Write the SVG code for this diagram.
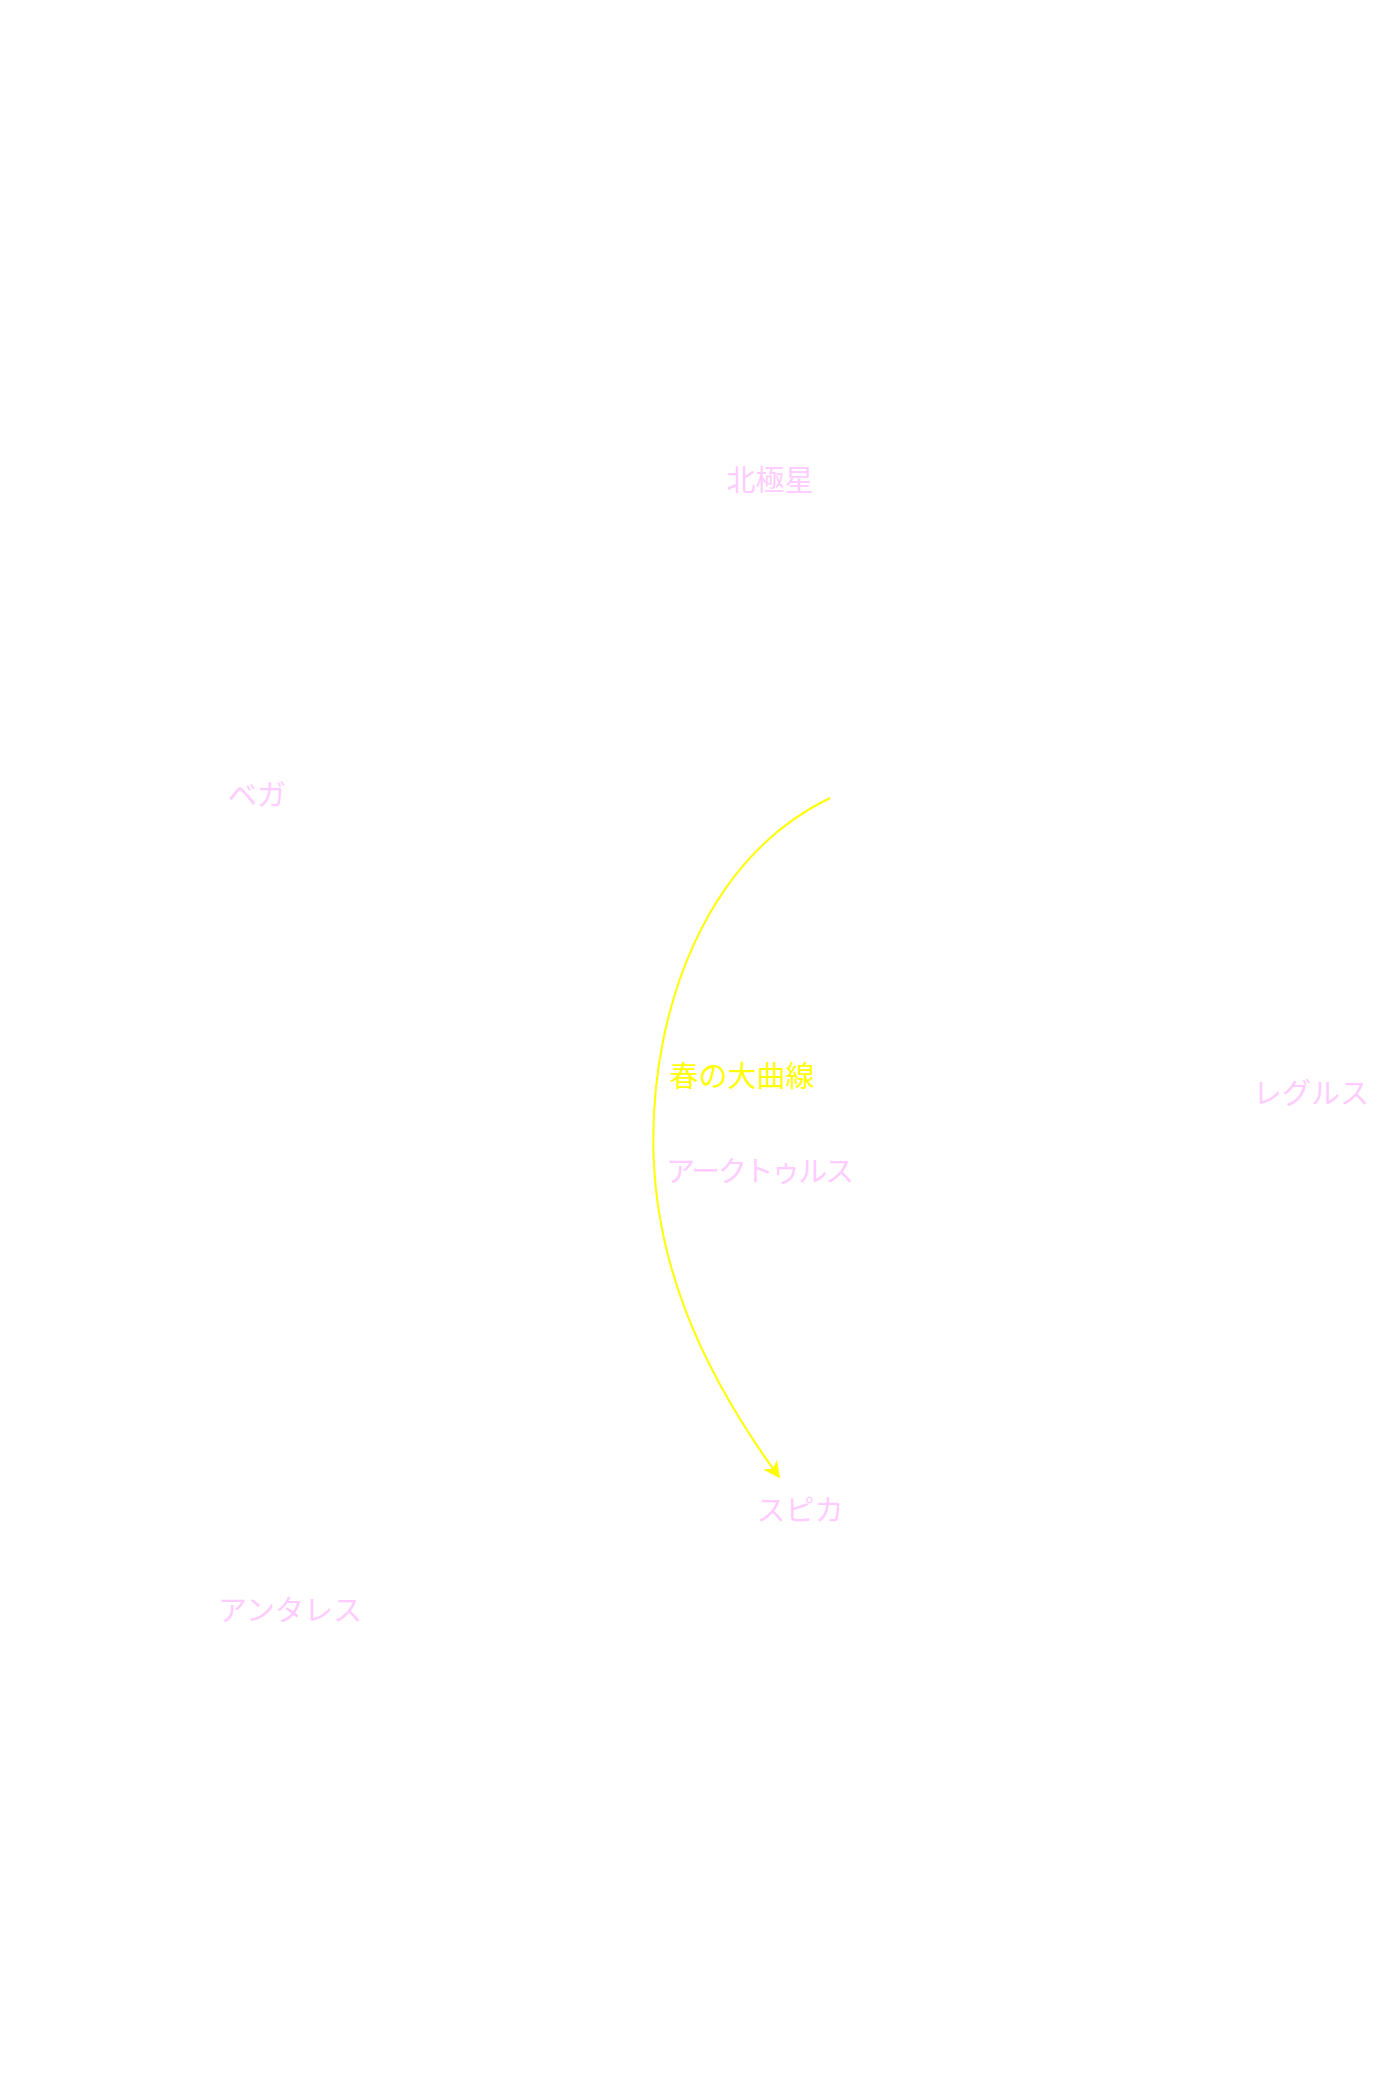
<svg xmlns="http://www.w3.org/2000/svg" width="1400" height="2100" viewBox="0 0 1400 2100">
<style>
.star{font-family:"Noto Sans CJK JP","Noto Sans",sans-serif;font-size:29px;fill:#ffccff;text-anchor:middle}
.lbl{font-family:"Noto Sans CJK JP","Noto Sans",sans-serif;font-size:29px;fill:#ffff00;text-anchor:middle}
.curve{fill:none;stroke:#ffff00;stroke-width:2}
</style>
<defs>
<marker id="arr" viewBox="0 0 10 10" refX="9" refY="5" markerWidth="17" markerHeight="17" markerUnits="userSpaceOnUse" orient="auto">
<path d="M0,0 L10,5 L0,10 L3,5 Z" fill="#ffff00"/>
</marker>
</defs>
<rect width="1400" height="2100" fill="#ffffff"/>
<g id="connectors">
<path class="curve" d="M830,798 C704,859 653.3,1010 653.3,1140 C653.3,1260 699.6,1367.8 779,1477" marker-end="url(#arr)"/>
<text class="lbl" x="742" y="1087">春の大曲線</text>
</g>
<g id="polaris"><text class="star" x="770" y="491">北極星</text></g>
<g id="vega"><text class="star" x="257" y="806">ベガ</text></g>
<g id="regulus"><text class="star" x="1311" y="1104">レグルス</text></g>
<g id="arcturus"><text class="star" x="760" y="1182" textLength="188" lengthAdjust="spacing">アークトゥルス</text></g>
<g id="spica"><text class="star" x="800" y="1521">スピカ</text></g>
<g id="antares"><text class="star" x="290" y="1621">アンタレス</text></g>
</svg>
